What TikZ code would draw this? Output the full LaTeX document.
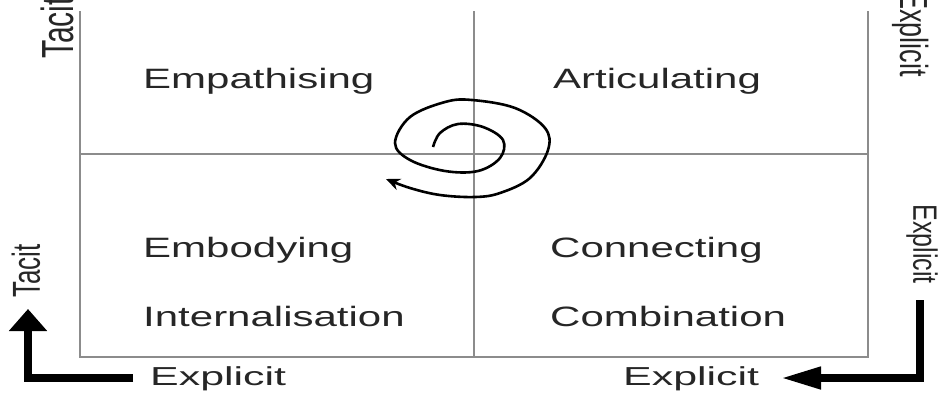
\documentclass[tikz,border=0pt]{standalone}
\usepackage{fontspec}
\usepackage{graphicx}
\setmainfont{Liberation Sans}
\usetikzlibrary{arrows.meta}
\newcommand\hstr[1]{\scalebox{1.5}[1]{#1}}
\tikzset{
  gridline/.style={draw=gray!90, line width=2.2pt},
  lbl/.style={inner sep=0pt, font=\fontsize{28}{30}\selectfont, text=black!85},
  axlbl/.style={inner sep=0pt, font=\fontsize{26}{28}\selectfont, text=black!85},
  bigarrow/.style={line width=7.5pt, black},
  spiral/.style={line width=2.6pt, black}
}
\begin{document}
\begin{tikzpicture}[x=1pt,y=-1pt]
\useasboundingbox (0,0) rectangle (939,392);
\clip (0,0) rectangle (939,392);
% grid
\coordinate (tl) at (80,11);
\coordinate (tr) at (868,11);
\coordinate (bl) at (80,357);
\coordinate (br) at (868,357);
\coordinate (mt) at (474,11);
\coordinate (mb) at (474,357);
\coordinate (ml) at (80,154);
\coordinate (mr) at (868,154);
\draw[gridline] (tl) -- (bl) -- (br) -- (tr);
\draw[gridline] (mt) -- (mb);
\draw[gridline, line width=1.8pt] (ml) -- (mr);
% quadrant labels
\node[lbl, anchor=base west] (emp) at (143,88) {\hstr{Empathising}};
\node[lbl, anchor=base west] (art) at (553,88) {\hstr{Articulating}};
\node[lbl, anchor=base west] (emb) at (143,257) {\hstr{Embodying}};
\node[lbl, anchor=base west] (int) at (143,326) {\hstr{Internalisation}};
\node[lbl, anchor=base west] (con) at (550,257) {\hstr{Connecting}};
\node[lbl, anchor=base west] (com) at (550,326) {\hstr{Combination}};
% axis labels
\node[axlbl, anchor=base west] (ex1) at (150,385) {\scalebox{1.65}[1]{Explicit}};
\node[axlbl, anchor=base west] (ex2) at (623,385) {\scalebox{1.65}[1]{Explicit}};
\node[axlbl] (tac1) at (26,271) {\scalebox{1.5}[1]{\rotatebox{90}{Tacit}}};
\node[axlbl, font=\fontsize{30}{32}\selectfont] (tac2) at (57,28) {\scalebox{1.5}[1]{\rotatebox{90}{Tacit}}};
\node[axlbl, font=\fontsize{25}{27}\selectfont] (exr1) at (922,244) {\scalebox{1.35}[1]{\rotatebox{-90}{Explicit}}};
\node[axlbl, font=\fontsize{27}{29}\selectfont] (exr2) at (911,34) {\scalebox{1.45}[1]{\rotatebox{-90}{Explicit}}};
% big arrows
\coordinate (la1) at (133,378);
\coordinate (la2) at (28,378);
\coordinate (la3) at (28,309);
\draw[bigarrow, -{Triangle[length=22pt,width=37pt]}] (la1) -- (la2) -- (la3);
\coordinate (ra1) at (920,300);
\coordinate (ra2) at (920,378);
\coordinate (ra3) at (781,378);
\draw[bigarrow, -{Triangle[length=40pt,width=21pt]}] (ra1) -- (ra2) -- (ra3);
% spiral
\draw[spiral, -{Stealth[length=14pt,width=12pt]}] plot[smooth, tension=0.6] coordinates {
(433,147) (440,133) (458,124) (483,127) (503,140) (500,158) (478,171) (445,171)
(410,160) (395,143) (410,117) (445,102) (472,100) (515,108) (545,128) (548,150)
(530,178) (500,193) (475,197) (440,195) (410,188) (386,179)};
\end{tikzpicture}
\end{document}
